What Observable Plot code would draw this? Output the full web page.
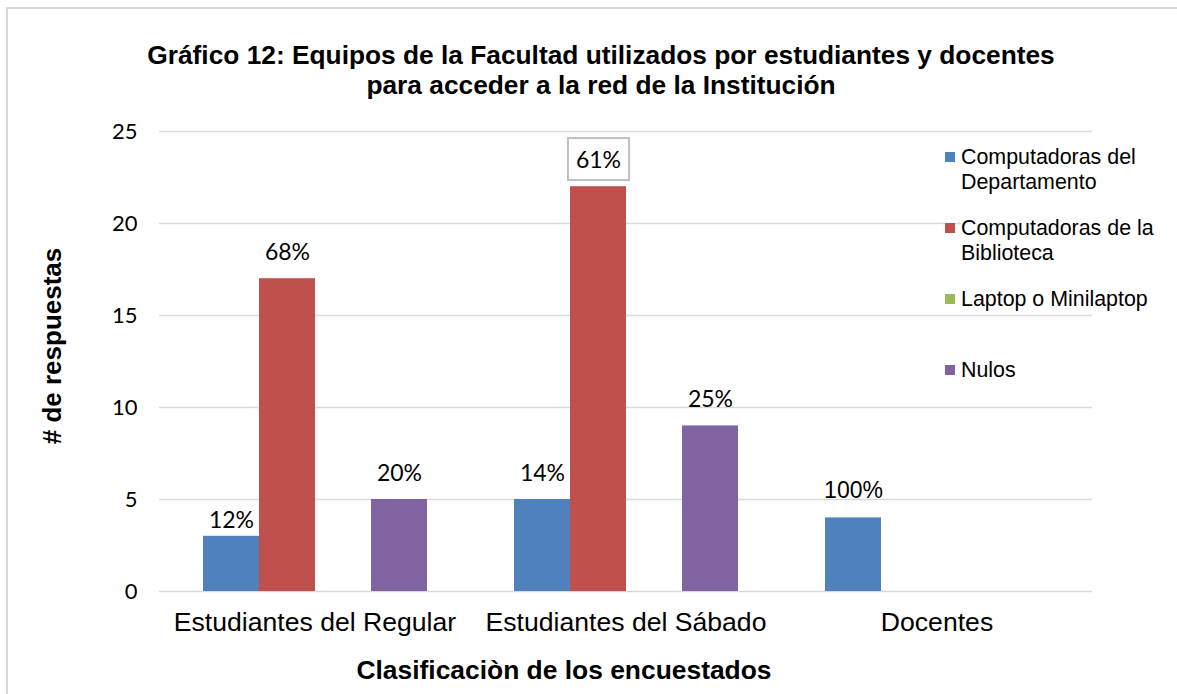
<!DOCTYPE html>
<html>
<head>
<meta charset="utf-8">
<script src="https://cdn.jsdelivr.net/npm/d3@7"></script>
<script src="https://cdn.jsdelivr.net/npm/@observablehq/plot@0.6"></script>
<style>
  body { margin: 0; background: #fff; }
  #wrap { position: relative; width: 1177px; height: 694px; overflow: hidden; font-family: "Liberation Sans", Arial, sans-serif; color: #000; }
  #frame { position: absolute; left: 6px; top: 7px; width: 1300px; height: 800px; border-left: 2px solid #d9d9d9; border-top: 2px solid #d9d9d9; }
  #title { position: absolute; left: 0; width: 1202px; top: 40px; text-align: center; font-weight: bold; font-size: 26.3px; line-height: 30px; }
  #chart { position: absolute; left: 0; top: 110px; }
  #ytitle { position: absolute; left: 52px; top: 346px; transform: translate(-50%, -50%) rotate(-90deg); white-space: nowrap; font-weight: bold; font-size: 26px; line-height: 30px; }
  #xtitle { position: absolute; left: 0; width: 1128px; top: 655px; text-align: center; font-weight: bold; font-size: 26.4px; line-height: 30px; }
  #legend { position: absolute; left: 945px; top: 0; }
  .item { position: absolute; left: 0; width: 230px; }
  .sw { position: absolute; left: 0; width: 10px; height: 10px; }
  .lt { position: absolute; left: 16px; max-width: 205px; font-size: 21.4px; line-height: 25px; background: #fff; }
</style>
</head>
<body>
<div id="wrap">
  <div id="frame"></div>
  <div id="title">Gráfico 12: Equipos de la Facultad utilizados por estudiantes y docentes<br>para acceder a la red de la Institución</div>
  <div id="chart"></div>
  <div id="ytitle"># de respuestas</div>
  <div id="xtitle">Clasificaciòn de los encuestados</div>
  <div id="legend"></div>
</div>
<script>
// ---- data ----
const groups = ["Estudiantes del Regular", "Estudiantes del Sábado", "Docentes"];
const series = ["Computadoras del Departamento", "Computadoras de la Biblioteca", "Laptop o Minilaptop", "Nulos"];
const colors = ["#4F81BD", "#C0504D", "#9BBB59", "#8064A2"];
const deptValues   = [3, 5, 4];
const biblioValues = [17, 22, 0];
const laptopValues = [0, 0, 0];
const nulosValues  = [5, 9, 0];
const deptLabels   = ["12%", "14%", "100%"];
const biblioLabels = ["68%", "61%", null];
const laptopLabels = [null, null, null];
const nulosLabels  = ["20%", "25%", null];
const yTicks = [0, 5, 10, 15, 20, 25];

const valueSets = [deptValues, biblioValues, laptopValues, nulosValues];
const labelSets = [deptLabels, biblioLabels, laptopLabels, nulosLabels];
const rows = [];
groups.forEach((g, gi) => {
  series.forEach((s, si) => {
    rows.push({group: g, series: s, value: valueSets[si][gi], label: labelSets[si][gi]});
  });
});
const labeled = rows.filter(d => d.label);
const isLow = d => d.group === groups[0] && d.series === series[0];
const isArial = d => d.group === groups[2];

const chart = Plot.plot({
  width: 1177,
  height: 584,
  marginTop: 21,
  marginBottom: 103,
  marginLeft: 158,
  marginRight: 85,
  style: {background: "transparent", color: "#000"},
  fx: {domain: groups, padding: 0, axis: null, label: null},
  x: {domain: series, paddingInner: 0, paddingOuter: 0.755, axis: null, label: null},
  y: {domain: [0, 25], axis: null, label: null},
  color: {domain: series, range: colors},
  marks: [
    Plot.ruleY(yTicks, {stroke: "#d9d9d9", strokeWidth: 1.6}),
    Plot.barY(rows, {fx: "group", x: "series", y: "value", fill: "series"}),
    Plot.text(labeled.filter(d => !isLow(d) && !isArial(d)), {fx: "group", x: "series", y: "value", text: "label", dy: -26, fontSize: 23, fontFamily: "Lato", fill: "#000"}),
    Plot.text(labeled.filter(isLow), {fx: "group", x: "series", y: "value", text: "label", dy: -16, fontSize: 23, fontFamily: "Lato", fill: "#000"}),
    Plot.text(labeled.filter(isArial), {fx: "group", x: "series", y: "value", text: "label", dy: -27, fontSize: 23, fontFamily: "Liberation Sans", fill: "#000"}),
    Plot.axisY({ticks: yTicks, tickSize: 0, tickPadding: 22, fontSize: 22, fontFamily: "Lato", label: null, fill: "#000"}),
    Plot.axisFx({anchor: "bottom", tickSize: 0, tickPadding: 21, fontSize: 26.6, fontFamily: "Liberation Sans", label: null, fill: "#000"})
  ]
});
document.getElementById("chart").appendChild(chart);

// box around the 61% label
d3.select(chart).selectAll("text").each(function() {
  if (this.textContent === biblioLabels[1]) {
    const b = this.getBBox();
    const padX = 8, padY = 7;
    const rect = document.createElementNS("http://www.w3.org/2000/svg", "rect");
    rect.setAttribute("x", b.x - padX);
    rect.setAttribute("y", b.y - padY);
    rect.setAttribute("width", b.width + 2 * padX);
    rect.setAttribute("height", b.height + 2 * padY);
    rect.setAttribute("fill", "#fff");
    rect.setAttribute("stroke", "#bfbfbf");
    rect.setAttribute("stroke-width", 2);
    const t = this.getAttribute("transform");
    if (t) rect.setAttribute("transform", t);
    this.parentNode.insertBefore(rect, this);
  }
});

// legend
const legend = d3.select("#legend");
series.forEach((s, i) => {
  const item = legend.append("div").attr("class", "item").style("top", (144.5 + 71 * i) + "px");
  item.append("div").attr("class", "sw").style("top", "7.5px").style("background", colors[i]);
  item.append("div").attr("class", "lt").text(s);
});
</script>
</body>
</html>
